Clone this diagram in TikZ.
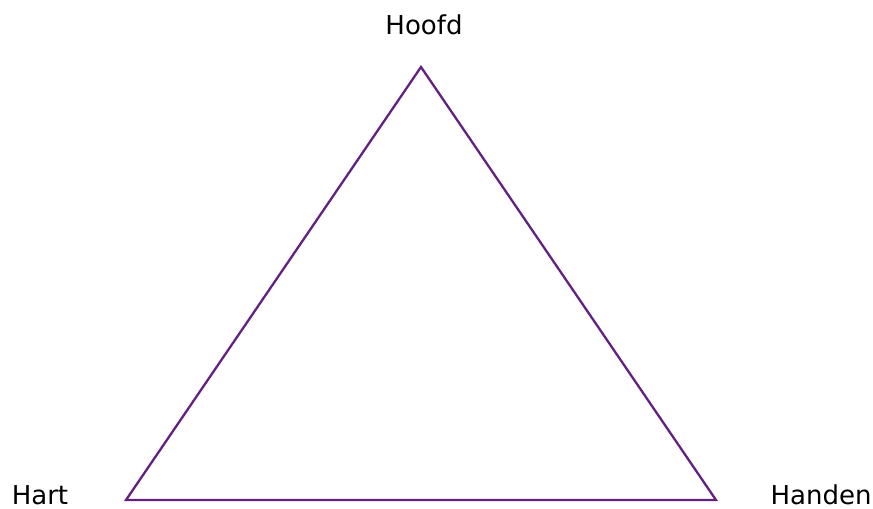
\documentclass[tikz,border=0pt]{standalone}
\usepackage{fontspec}
\setmainfont{DejaVu Sans}
\usetikzlibrary{positioning}
\definecolor{plum}{RGB}{98,32,128}
\begin{document}
\begin{tikzpicture}[x=0.02cm, y=-0.02cm,
  lbl/.style={font=\fontsize{14.8}{17}\selectfont, text=black, inner sep=0pt, anchor=base},
  side/.style={draw=plum, line width=1.3pt, line join=miter}]
\useasboundingbox (0,0) rectangle (873,509);
\coordinate (top) at (421,67);
\coordinate (left) at (126,500);
\coordinate (right) at (716,500);
\draw[side] (top) -- (left) -- (right) -- cycle;
\node[lbl] (hoofd) at (424,35) {Hoofd};
\node[lbl] (hart) at (40,505) {Hart};
\node[lbl] (handen) at (821,505) {Handen};
\end{tikzpicture}
\end{document}
